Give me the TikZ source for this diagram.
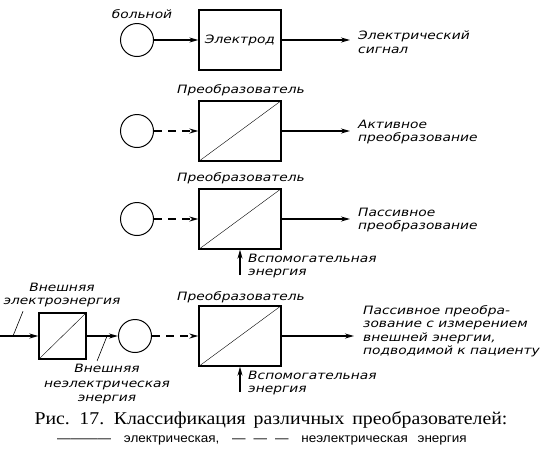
\documentclass[tikz,border=0pt]{standalone}
\usepackage{fontspec}
\setmainfont{Liberation Serif}
\setsansfont{Liberation Sans}
\newfontfamily\drawfont{DejaVu Sans}[FakeStretch=1.2]
\newfontfamily\capfont{Liberation Serif}[FakeStretch=1.1]
\newfontfamily\keyfont{Liberation Sans}[FakeStretch=1.08]
\usetikzlibrary{arrows.meta, positioning, calc}

\begin{document}
\begin{tikzpicture}[
        x=1pt, y=-1pt,
        conv/.style={rectangle, draw, line width=1.3pt, minimum width=82pt, minimum height=60pt, inner sep=0pt},
        smallconv/.style={rectangle, draw, line width=1.3pt, minimum width=47pt, minimum height=46pt, inner sep=0pt},
        patient/.style={circle, draw, line width=1pt, minimum size=33pt, inner sep=0pt},
        lbl/.style={font=\drawfont\itshape\fontsize{11.5}{13.5}\selectfont, inner sep=0pt, align=left},
        arrow/.style={line width=1.5pt, -{Stealth[length=9pt, width=5pt]}},
        dasharrow/.style={arrow, dash pattern=on 8pt off 6pt},
        leader/.style={line width=0.6pt}
    ]
        \useasboundingbox (0,0) rectangle (551,456);

        % row 1: electrode
        \node (lpat) [lbl] at (142,14) {больной};
        \node (pat1) [patient] at (137,40) {};
        \node (el) [conv, font=\drawfont\itshape\fontsize{11.5}{13}\selectfont] at (240,40) {Электрод};
        \coordinate (out1) at (350,40);
        \node (lout1) [lbl, anchor=west] at (358,42) {Электрический\\сигнал};
        \draw [arrow] (pat1) -- (el);
        \draw [arrow] (el) -- (out1);

        % row 2: active conversion
        \node (lconv2) [lbl] at (241,90) {Преобразователь};
        \node (pat2) [patient] at (137,131) {};
        \node (conv2) [conv] at (240,131) {};
        \coordinate (out2) at (350,131);
        \node (lout2) [lbl, anchor=west] at (358,132) {Активное\\преобразование};
        \draw (conv2.south west) -- (conv2.north east);
        \draw [dasharrow] (pat2) -- (conv2);
        \draw [arrow] (conv2) -- (out2);

        % row 3: passive conversion
        \node (lconv3) [lbl] at (241,178) {Преобразователь};
        \node (pat3) [patient] at (137,219) {};
        \node (conv3) [conv] at (240,219) {};
        \coordinate (out3) at (350,219);
        \coordinate (aux3) at (240,275);
        \node (lout3) [lbl, anchor=west] at (358,220) {Пассивное\\преобразование};
        \node (laux3) [lbl, anchor=west] at (248,266) {Вспомогательная\\энергия};
        \draw (conv3.south west) -- (conv3.north east);
        \draw [dasharrow] (pat3) -- (conv3);
        \draw [arrow] (conv3) -- (out3);
        \draw [arrow] (aux3) -- (conv3);

        % row 4: passive conversion with external energy
        \node (lconv4) [lbl] at (241,297) {Преобразователь};
        \coordinate (ein) at (0,336);
        \node (conv0) [smallconv] at (62.5,336) {};
        \node (pat4) [patient] at (135,336) {};
        \node (conv4) [conv] at (240,336) {};
        \coordinate (out4) at (354,336);
        \coordinate (aux4) at (240,392);
        \node (lein) [lbl, align=center] at (62,295) {Внешняя\\электроэнергия};
        \node (lnel) [lbl, align=center, font=\drawfont\itshape\fontsize{11.5}{14.5}\selectfont] at (107,384) {Внешняя\\неэлектрическая\\энергия};
        \node (lout4) [lbl, anchor=west] at (363,331) {Пассивное преобра-\\зование с измерением\\внешней энергии,\\подводимой к пациенту};
        \node (laux4) [lbl, anchor=west] at (248,383) {Вспомогательная\\энергия};
        \draw (conv0.south west) -- (conv0.north east);
        \draw (conv4.south west) -- (conv4.north east);
        \draw [arrow] (ein) -- (conv0);
        \draw [arrow] (conv0) -- (pat4);
        \draw [dasharrow] (pat4) -- (conv4);
        \draw [arrow] (conv4) -- (out4);
        \draw [arrow] (aux4) -- (conv4);
        \draw [leader] ($(lein.south)+(-39,4)$) -- ($(ein)+(13,0)$);
        \draw [leader] ($(conv0.east)!0.65!(pat4.west)$) -- ++(-10,25);

        % caption
        \node (cap) [font=\capfont\fontsize{18}{20}\selectfont, inner sep=0pt] at (271,420) {Рис.\hspace{3pt} 17.\hspace{3pt} Классификация\hspace{3pt} различных\hspace{3pt} преобразователей:};
        \node (capkey) [font=\keyfont\fontsize{12.5}{14}\selectfont, inner sep=0pt] at (262,440) {————\hspace{9pt} электрическая,\hspace{9pt} —\hspace{8pt}—\hspace{8pt}—\hspace{9pt} неэлектрическая\hspace{6pt} энергия};
\end{tikzpicture}
\end{document}
